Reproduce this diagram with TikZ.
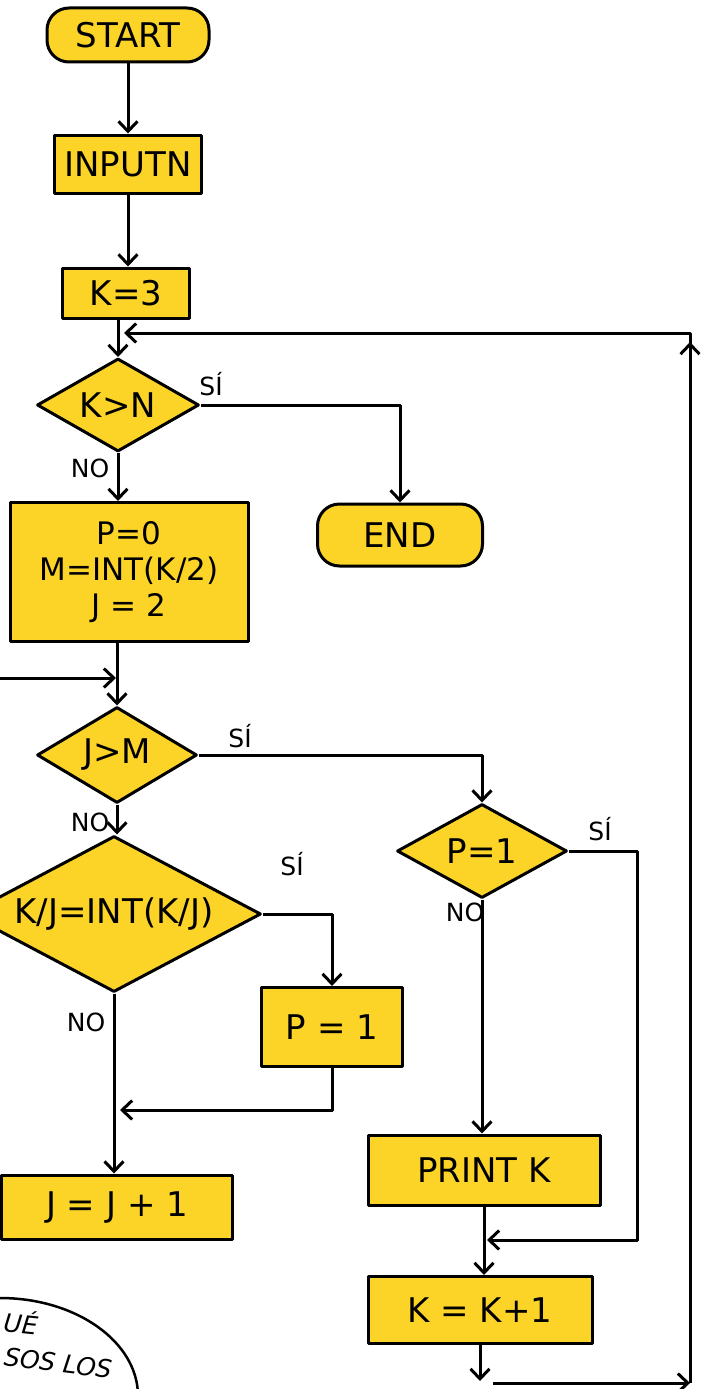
\documentclass[tikz,border=0pt]{standalone}
\usepackage{fontspec}
\setmainfont{DejaVu Sans}
\usetikzlibrary{arrows.meta, shapes.geometric}
\definecolor{flowyellow}{RGB}{252,212,40}

\begin{document}
\begin{tikzpicture}[x=1pt, y=-1pt, >={Straight Barb[length=10pt,width=19pt]},
            line width=3pt, line join=round,
            every node/.style={font=\fontsize{34}{38}\selectfont},
            box/.style={draw, fill=flowyellow, rectangle, inner sep=0pt},
            term/.style={box, rounded corners=22pt},
            test/.style={draw, fill=flowyellow, diamond, inner sep=0pt},
            answer/.style={font=\fontsize{25}{28}\selectfont},
            bubbletext/.style={font=\fontsize{25}{28}\selectfont\itshape, inner sep=0pt}]
          \useasboundingbox (0,0) rectangle (707,1389);
          \clip (0,0) rectangle (707,1389);
          \node[term, minimum width=162pt, minimum height=54pt] (start) at (128,35) {START};
          \node[box, minimum width=147pt, minimum height=58pt] (input) at (128,164) {INPUTN};
          \node[box, minimum width=127pt, minimum height=50pt] (kset) at (126,293) {K=3};
          \node[test, aspect=1.74, minimum width=162pt, minimum height=93pt] (kgtn) at (118,405) {K>N};
          \node[term, minimum width=165pt, minimum height=62pt] (stop) at (400,535) {END};
          \node[box, minimum width=238pt, minimum height=139pt, align=center,
                font=\fontsize{31}{36}\selectfont] (init) at (129,572) {P=0\\M=INT(K/2)\\J = 2};
          \node[test, aspect=1.67, minimum width=160pt, minimum height=96pt] (jgtm) at (117,755) {J>M};
          \node[test, aspect=1.88, minimum width=294pt, minimum height=156pt] (divides) at (114,914) {K/J=INT(K/J)};
          \node[box, minimum width=141pt, minimum height=79pt] (pset) at (332,1027) {P = 1};
          \node[box, minimum width=231pt, minimum height=64pt] (jinc) at (117,1207) {J = J + 1};
          \node[test, aspect=1.8, minimum width=170pt, minimum height=94pt] (pcheck) at (482,851) {P=1};
          \node[box, minimum width=232pt, minimum height=70pt] (print) at (484,1170) {PRINT K};
          \node[box, minimum width=224pt, minimum height=67pt] (kinc) at (480,1310) {K = K+1};
          \coordinate (loopin) at (124,333);
          \coordinate (loopcorner) at (690,333);
          \coordinate (looptip) at (690,342);
          \coordinate (loopbase) at (690,1383);
          \coordinate (loopstart) at (493,1383);
          \coordinate (kend) at (480,1381);
          \coordinate (jback) at (0,678);
          \coordinate (jbacktip) at (116,678);
          \coordinate (pmerge) at (120,1110);
          \coordinate (pyes) at (637,0);
          \coordinate (kmerge) at (487,1240);
          \draw[->] (start) -- (input);
          \draw[->] (input) -- (input |- kset.north);
          \draw[->] (kgtn.north |- kset.south) -- (kgtn.north);
          \draw[->] (kgtn.east) -| (stop.north);
          \draw[->] (kgtn.south) -- (kgtn.south |- init.north);
          \draw[->] (jgtm.north |- init.south) -- (jgtm.north);
          \draw[->] (jback) -- (jbacktip);
          \draw[->] (jgtm.east) -| (pcheck.north);
          \draw[->] (jgtm.south) -- (jgtm.south |- divides.north);
          \draw[->] (divides.east) -| (pset.north);
          \draw[->] (divides.south) -- (divides.south |- jinc.north);
          \draw[->] (pset.south) |- (pmerge);
          \draw[->] (pcheck.south) -- (pcheck.south |- print.north);
          \draw[->] (pcheck.east) -- (pcheck.east -| pyes) -- (pyes |- kmerge) -- (kmerge);
          \draw[->] (print.south) -- (print.south |- kinc.north);
          \draw[->] (kinc.south) -- (kend);
          \draw[->] (loopstart) -- (loopbase);
          \draw[->] (loopbase) -- (looptip);
          \draw[->] (loopbase) -- (loopcorner) -- (loopin);
          \node[answer] (yes1) at (211,384) {SÍ};
          \node[answer] (no1) at (90,468) {NO};
          \node[answer] (yes2) at (240,736) {SÍ};
          \node[answer] (no2) at (90,822) {NO};
          \node[answer] (yes3) at (292,864) {SÍ};
          \node[answer] (no3) at (86,1022) {NO};
          \node[answer] (yes4) at (600,829) {SÍ};
          \node[answer] (no4) at (465,912) {NO};
          \draw[line width=2.5pt] (0,1396) ellipse [x radius=138pt, y radius=98pt];
          \node[bubbletext, rotate=-6] (qword) at (21,1322) {UÉ};
          \node[bubbletext, rotate=-7] (stepsword) at (58,1363) {SOS LOS};
          \node[bubbletext, rotate=-7] (namedword) at (42,1404) {MADOS};
        \end{tikzpicture}
\end{document}
